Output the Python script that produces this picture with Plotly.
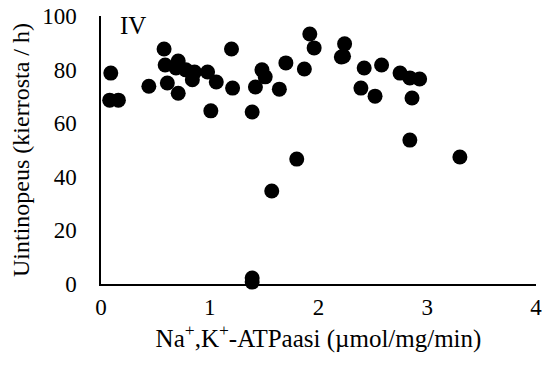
import plotly.graph_objects as go

atpase = [0.09, 0.08, 0.16, 0.44, 0.58, 0.59, 0.61, 0.71, 0.69, 0.71, 0.78, 0.84, 0.86, 0.98,
          1.01, 1.06, 1.20, 1.21, 1.39, 1.42, 1.48, 1.51, 1.57, 1.64, 1.70, 1.80, 1.87, 1.92,
          1.96, 2.23, 2.24, 2.21, 2.39, 2.42, 2.52, 2.58, 2.75, 2.84, 2.93, 2.86, 2.84, 3.30,
          1.39, 1.39]
speed = [78.7, 68.6, 68.6, 73.8, 87.7, 81.7, 75.0, 83.2, 80.6, 71.2, 79.9, 76.2, 79.1, 79.1,
         64.6, 75.4, 87.7, 73.1, 64.2, 73.5, 79.9, 77.3, 34.7, 72.7, 82.5, 46.6, 80.2, 93.3,
         88.1, 85.0, 89.6, 84.7, 73.1, 80.6, 70.1, 81.7, 78.7, 76.9, 76.5, 69.4, 53.7, 47.4,
         0.7, 2.2]

x_ticks = [0, 1, 2, 3, 4]
y_ticks = [0, 20, 40, 60, 80, 100]

font_family = "Liberation Serif"

fig = go.Figure()
fig.add_trace(go.Scatter(
    x=atpase, y=speed, mode="markers",
    marker=dict(size=15, color="black", line=dict(width=0)),
    cliponaxis=False, showlegend=False,
))

fig.add_annotation(
    text="IV", xref="paper", yref="paper", x=0.038, y=0.965,
    xanchor="left", yanchor="middle", showarrow=False,
    font=dict(family=font_family, size=25, color="black"),
)

fig.update_layout(
    width=547, height=369,
    margin=dict(l=101, r=11, t=16, b=85, autoexpand=False),
    paper_bgcolor="white", plot_bgcolor="white",
    font=dict(family=font_family, size=24, color="black"),
    xaxis=dict(
        range=[0, 4], tickvals=x_ticks, ticks="", showgrid=False, zeroline=False,
        showline=True, linecolor="black", linewidth=1.5, automargin=False,
        ticklabelstandoff=2, tickfont=dict(size=23),
        title=dict(text="Na<sup>+</sup>,K<sup>+</sup>-ATPaasi (µmol/mg/min)",
                   font=dict(size=25), standoff=8),
    ),
    yaxis=dict(
        range=[0, 100], tickvals=y_ticks, ticks="", showgrid=False, zeroline=False,
        showline=True, linecolor="black", linewidth=1.5, automargin=False,
        ticklabelstandoff=18, tickfont=dict(size=23),
        title=dict(text="Uintinopeus (kierrosta / h)", font=dict(size=24), standoff=6),
    ),
)

fig.write_html("out.html")
